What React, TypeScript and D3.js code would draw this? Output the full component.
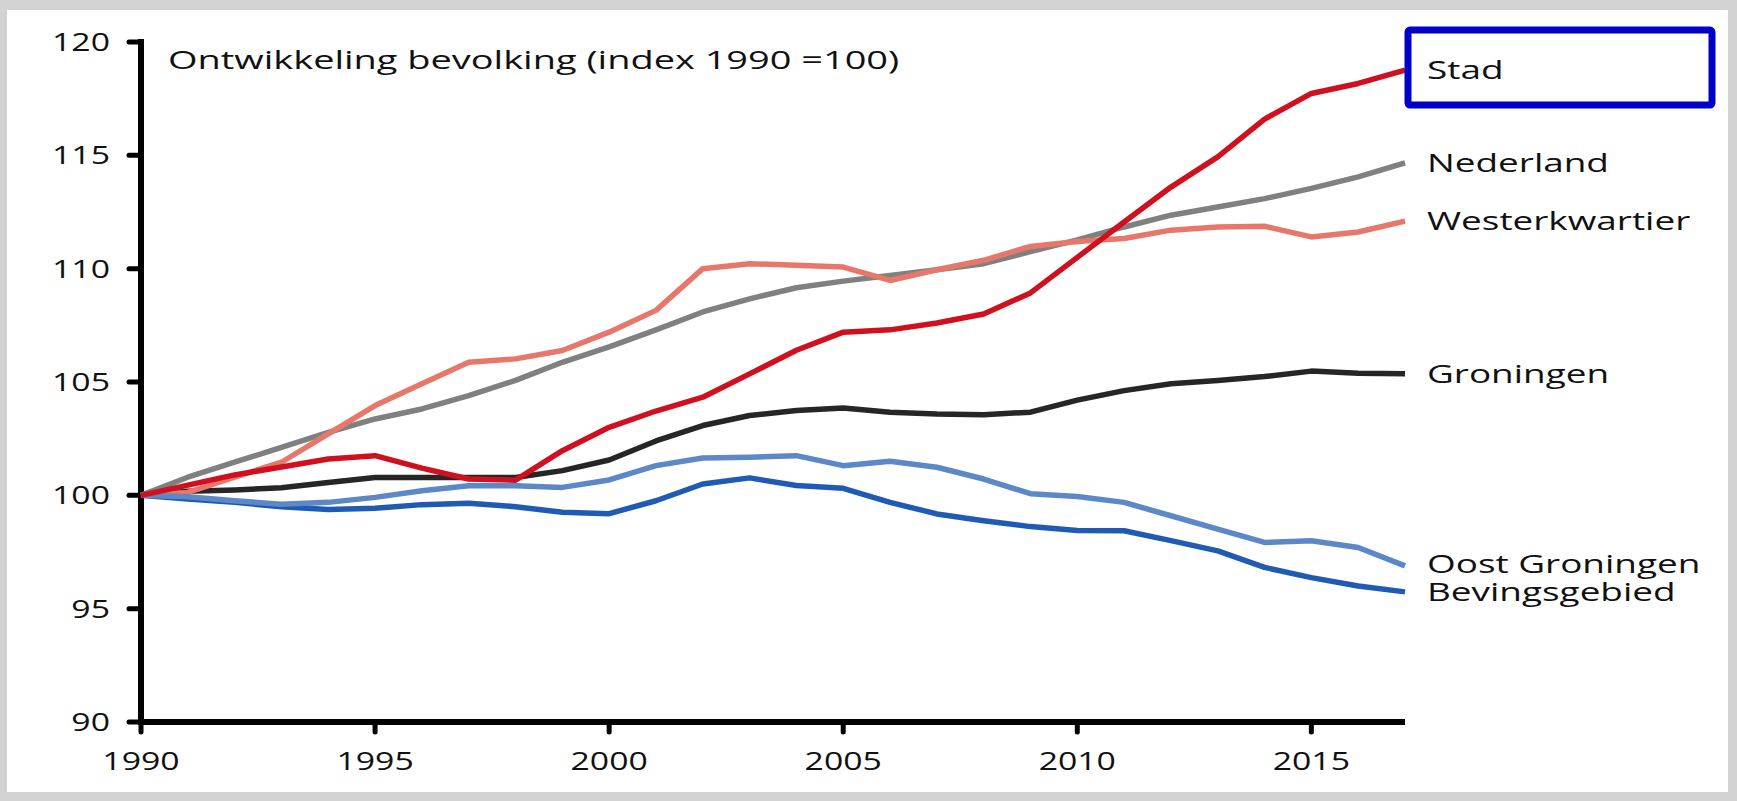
import React from "react";
import * as d3 from "d3";

const years = d3.range(1990, 2018);
const seriesNames = ["Groningen", "Bevingsgebied", "Nederland", "Westerkwartier", "Oost Groningen", "Stad"];
const stad = [100, 100.45, 100.9, 101.25, 101.6, 101.75, 101.2, 100.72, 100.67, 101.97, 103.0, 103.72, 104.33, 105.36, 106.4, 107.2, 107.3, 107.6, 108.0, 108.93, 110.5, 112.06, 113.6, 114.93, 116.6, 117.73, 118.17, 118.76];
const nederland = [100, 100.8, 101.46, 102.12, 102.78, 103.37, 103.81, 104.4, 105.07, 105.87, 106.55, 107.3, 108.09, 108.67, 109.16, 109.45, 109.7, 109.95, 110.22, 110.75, 111.27, 111.84, 112.36, 112.72, 113.09, 113.54, 114.05, 114.67];
const westerkwartier = [100, 100.13, 100.8, 101.46, 102.71, 103.96, 104.92, 105.87, 106.02, 106.39, 107.2, 108.16, 110.0, 110.22, 110.15, 110.07, 109.48, 109.95, 110.37, 110.98, 111.2, 111.33, 111.7, 111.84, 111.87, 111.4, 111.62, 112.1];
const groningen = [100, 100.18, 100.24, 100.33, 100.57, 100.79, 100.79, 100.79, 100.79, 101.09, 101.56, 102.4, 103.08, 103.52, 103.74, 103.85, 103.67, 103.59, 103.56, 103.67, 104.2, 104.62, 104.92, 105.07, 105.24, 105.48, 105.39, 105.36];
const oostGroningen = [100, 99.94, 99.76, 99.61, 99.69, 99.91, 100.2, 100.42, 100.42, 100.35, 100.68, 101.31, 101.65, 101.68, 101.75, 101.31, 101.5, 101.24, 100.72, 100.07, 99.95, 99.69, 99.1, 98.51, 97.92, 98.0, 97.7, 96.89];
const bevingsgebied = [100, 99.84, 99.69, 99.5, 99.37, 99.43, 99.59, 99.65, 99.5, 99.25, 99.19, 99.76, 100.5, 100.77, 100.43, 100.31, 99.69, 99.18, 98.88, 98.62, 98.45, 98.44, 98.0, 97.55, 96.82, 96.37, 96.0, 95.74];
const seriesValues = [groningen, bevingsgebied, nederland, westerkwartier, oostGroningen, stad];
const seriesColors = ["#262626", "#1f5bb5", "#808080", "#e8776b", "#5c88c8", "#d1101f"];
const yTicks = [90, 95, 100, 105, 110, 115, 120];
const xTicks = [1990, 1995, 2000, 2005, 2010, 2015];
const title = "Ontwikkeling bevolking (index 1990 =100)";
const highlighted = "Stad";

const W = 1737;
const H = 801;
const FONT = "'Open Sans', 'Noto Sans', sans-serif";
const SX = 1.42;
const TITLE_SX = 1.46;
const TSX = 1.3;

export default function App() {
  const x = d3.scaleLinear().domain([1990, 2017]).range([141, 1405]);
  const y = d3.scaleLinear().domain([90, 120]).range([722, 42]);
  const line = d3
    .line<number>()
    .x((_, i) => x(years[i]))
    .y((v) => y(v))
    .curve(d3.curveLinear);

  const labelX = 1427;
  const hiIdx = seriesNames.indexOf(highlighted);
  const hiY = y(seriesValues[hiIdx][seriesValues[hiIdx].length - 1]);

  const stretched = (tx: number, ty: number, s: number) =>
    `translate(${tx},${ty}) scale(${s},1)`;

  return (
    <svg
      width={W}
      height={H}
      style={{ position: "absolute", left: 0, top: 0, display: "block" }}
      fontFamily={FONT}
    >
      <rect x={0} y={0} width={W} height={H} fill="#d2d2d2" />
      <rect x={7} y={10} width={1721} height={782} fill="#ffffff" />

      {/* axes */}
      <line x1={x(1990)} x2={x(1990)} y1={y(120) - 3} y2={y(90) + 3} stroke="#000" strokeWidth={6} />
      <line x1={x(1990) - 3} x2={x(2017)} y1={y(90)} y2={y(90)} stroke="#000" strokeWidth={6} />
      {yTicks.map((t) => (
        <g key={"y" + t}>
          <line x1={x(1990) - 12} x2={x(1990)} y1={y(t)} y2={y(t)} stroke="#000" strokeWidth={5} strokeLinecap="round" />
          <text
            transform={stretched(110, y(t) + 9, TSX)}
            textAnchor="end"
            fontSize={26}
            fill="#111"
          >
            {t}
          </text>
        </g>
      ))}
      {xTicks.map((t) => (
        <g key={"x" + t}>
          <line x1={x(t)} x2={x(t)} y1={y(90)} y2={y(90) + 10} stroke="#000" strokeWidth={5} strokeLinecap="round" />
          <text
            transform={stretched(x(t), 770, TSX)}
            textAnchor="middle"
            fontSize={26}
            fill="#111"
          >
            {t}
          </text>
        </g>
      ))}

      {/* title */}
      <text transform={stretched(168, 69, TITLE_SX)} fontSize={26} fill="#111">
        {title}
      </text>

      {/* lines */}
      {seriesNames.map((name, i) => (
        <path
          key={name}
          d={line(seriesValues[i]) || ""}
          fill="none"
          stroke={seriesColors[i]}
          strokeWidth={5.5}
          strokeLinejoin="round"
        />
      ))}

      {/* labels */}
      {seriesNames.map((name, i) => {
        const vals = seriesValues[i];
        const dy = name === "Oost Groningen" ? 7 : name === "Bevingsgebied" ? 9 : 9;
        return (
          <text
            key={"l" + name}
            transform={stretched(labelX, y(vals[vals.length - 1]) + dy, SX)}
            fontSize={26}
            fill="#111"
          >
            {name}
          </text>
        );
      })}

      {/* highlight box */}
      <rect
        x={x(2017) + 3}
        y={hiY - 40}
        width={304}
        height={75}
        rx={2}
        fill="none"
        stroke="#0000c8"
        strokeWidth={7}
      />
    </svg>
  );
}
